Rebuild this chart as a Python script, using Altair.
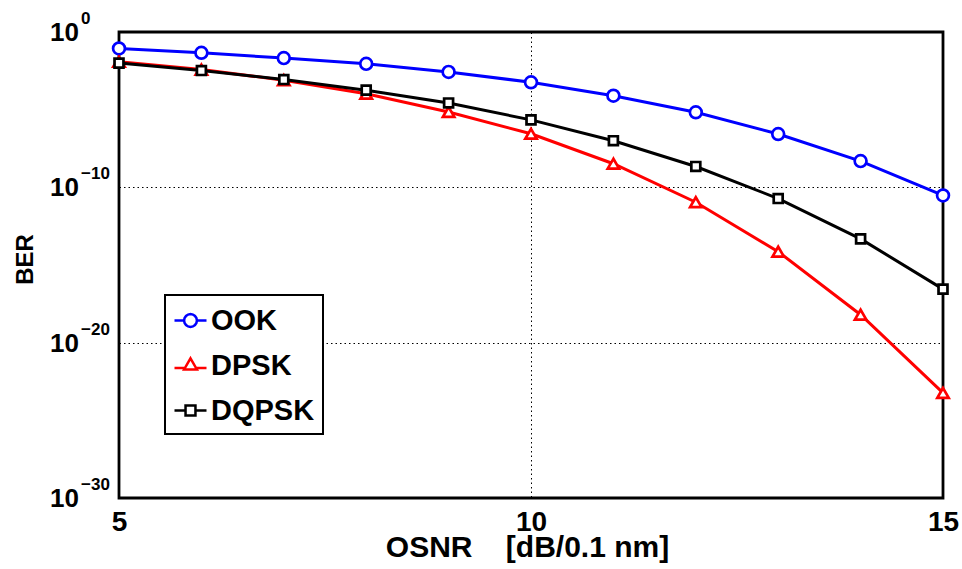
import altair as alt
import pandas as pd

# OSNR sweep and measured bit error rates per modulation format
osnr = [5, 6, 7, 8, 9, 10, 11, 12, 13, 14, 15]
ber_ook = [8.7e-2, 4.6e-2, 2.1e-2, 8.9e-3, 2.7e-3, 5.8e-4, 7.9e-5, 6.8e-6, 2.7e-7, 4.9e-9, 3.0e-11]
ber_dpsk = [1.2e-2, 3.8e-3, 7.9e-4, 1.07e-4, 7.1e-6, 2.8e-7, 3.3e-9, 1.1e-11, 7.2e-15, 6.3e-19, 5.8e-24]
ber_dqpsk = [1.0e-2, 3.3e-3, 8.7e-4, 1.8e-4, 2.7e-5, 2.2e-6, 1.0e-7, 2.2e-9, 1.9e-11, 4.8e-14, 2.8e-17]

series_names = ["OOK", "DPSK", "DQPSK"]
series_colors = ["#0000ff", "#ff0000", "#000000"]
marker_shapes = ["circle", "triangle-up", "square"]
marker_sizes = [140, 130, 80]

# legend glyphs: a short line segment with the marker in the middle
legend_paths = [
    "M-1 0L-0.4 0M0.4 0L1 0"
    "M0.4 0L0.37 0.15L0.28 0.28L0.15 0.37L0 0.4L-0.15 0.37L-0.28 0.28L-0.37 0.15"
    "L-0.4 0L-0.37 -0.15L-0.28 -0.28L-0.15 -0.37L0 -0.4L0.15 -0.37L0.28 -0.28L0.37 -0.15Z",
    "M-1 0.15L-0.34 0.15M0.34 0.15L1 0.15M0 -0.45L0.4 0.25L-0.4 0.25Z",
    "M-1 0L-0.31 0M0.31 0L1 0M-0.31 -0.31L0.31 -0.31L0.31 0.31L-0.31 0.31Z",
]

x_tick_values = [5, 10, 15]
y_tick_values = [1, 1e-10, 1e-20, 1e-30]
y_tick_bases = ["10", "10", "10", "10"]
y_tick_exponents = ["0", "\u221210", "\u221220", "\u221230"]

FONT = "Liberation Sans"

rows = []
for name, vals in zip(series_names, [ber_ook, ber_dpsk, ber_dqpsk]):
    for o, b in zip(osnr, vals):
        rows.append({"osnr": o, "ber": b, "series": name})
df = pd.DataFrame(rows)

ticks_df = pd.DataFrame({"tick": y_tick_values, "base": y_tick_bases, "exp": y_tick_exponents})

x_scale = alt.Scale(domain=[5, 15], nice=False, zero=False)
y_scale = alt.Scale(type="log", domain=[1e-30, 1], nice=False)

x_axis = alt.Axis(
    values=x_tick_values, format="d", grid=True, ticks=False, tickSize=0, domain=False,
    labelFont=FONT, labelFontSize=28, labelFontWeight="bold", labelColor="black",
    labelPadding=32, labelBaseline="alphabetic", labelFlush=False,
    title="OSNR\u00a0\u00a0\u00a0\u00a0[dB/0.1 nm]", titleFont=FONT, titleFontSize=30,
    titleFontWeight="bold", titleColor="black", titleBaseline="alphabetic",
    titleX=408, titleY=58, titleAlign="center",
)
y_axis = alt.Axis(
    values=y_tick_values, grid=True, labels=False, ticks=False, tickSize=0, domain=False,
    title="BER", titleFont=FONT, titleFontSize=24, titleFontWeight="bold", titleColor="black",
    titleX=-94, titleY=227, titleAlign="center", titleBaseline="middle",
)

X = alt.X("osnr:Q", scale=x_scale, axis=x_axis)
Y = alt.Y("ber:Q", scale=y_scale, axis=y_axis)

# one line + marker layer per modulation format
series_layers = []
for name, shape, size, col in zip(series_names, marker_shapes, marker_sizes, series_colors):
    base = alt.Chart(df).transform_filter(alt.datum.series == name)
    series_layers.append(base.mark_line(strokeWidth=3, stroke=col).encode(x=X, y=Y))
    series_layers.append(
        base.mark_point(shape=shape, size=size, filled=False, fill="white", fillOpacity=1,
                        stroke=col, strokeWidth=2.7, opacity=1)
        .encode(x=X, y=Y)
    )

# carries only the legend (line + marker glyphs); it draws no points itself
legend_layer = (
    alt.Chart(df)
    .transform_filter("datum.osnr < 0")
    .mark_point(filled=False, strokeWidth=2.5)
    .encode(
        x=X, y=Y,
        color=alt.Color("series:N", scale=alt.Scale(domain=series_names, range=series_colors),
                        legend=alt.Legend(title=None, orient="none", legendX=46, legendY=263)),
        shape=alt.Shape("series:N", scale=alt.Scale(domain=series_names, range=legend_paths),
                        legend=alt.Legend(title=None, orient="none", legendX=46, legendY=263)),
    )
)

# y tick labels written as 10 with a raised exponent
base_text = (
    alt.Chart(ticks_df)
    .mark_text(font=FONT, fontSize=26, fontWeight="bold", align="right", baseline="middle",
               dx=-40, dy=1, color="black")
    .encode(x=alt.X(datum=5, type="quantitative", scale=x_scale, axis=x_axis),
            y=alt.Y("tick:Q", scale=y_scale, axis=y_axis), text="base:N")
)
exp_text = (
    alt.Chart(ticks_df)
    .mark_text(font=FONT, fontSize=17, fontWeight="bold", align="left", baseline="middle",
               dx=-38, dy=-13, color="black")
    .encode(x=alt.X(datum=5, type="quantitative", scale=x_scale, axis=x_axis),
            y=alt.Y("tick:Q", scale=y_scale, axis=y_axis), text="exp:N")
)

chart = (
    alt.layer(*series_layers, legend_layer, base_text, exp_text)
    .properties(width=824, height=466, padding={"left": 119, "top": 32, "right": 19, "bottom": 71},
                autosize=alt.AutoSizeParams(type="none"), background="white")
    .configure_view(stroke="black", strokeWidth=2.8)
    .configure_axis(gridColor="black", gridDash=[1.5, 3], gridWidth=1, gridOpacity=1)
    .configure_legend(
        fillColor="white", strokeColor="black", strokeWidth=2, padding=8, cornerRadius=0,
        rowPadding=12, labelFont=FONT, labelFontSize=29, labelFontWeight="bold",
        labelColor="black", labelOffset=3, symbolSize=1024, symbolStrokeWidth=2.5,
        symbolOpacity=1,
    )
)

chart.save("out.html", embed_options={"renderer": "svg", "actions": False})
